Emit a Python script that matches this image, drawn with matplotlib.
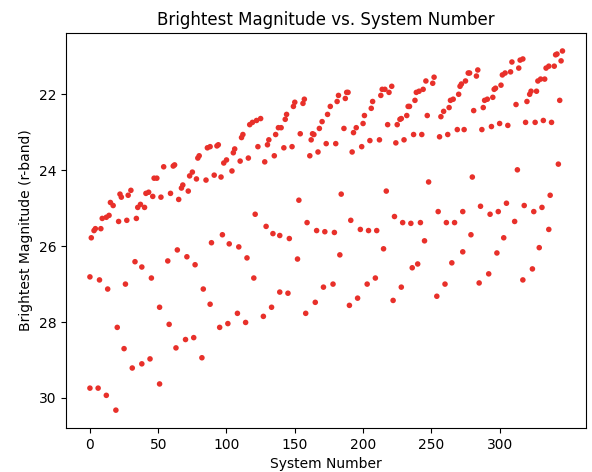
import matplotlib.pyplot as plt

# values
system_number = [
    1, 3, 4, 8, 9, 12, 14, 15, 17, 21, 22, 23, 27, 28, 30, 34, 35, 37, 40, 41,
    43, 46, 47, 49, 52, 54, 0, 7, 13, 26, 33, 38, 45, 51, 57, 58, 20, 25, 31, 38,
    44, 51, 0, 6, 12, 19, 61, 62, 59, 65, 67, 68, 72, 73, 75, 78, 79, 80, 85, 86,
    88, 91, 93, 94, 96, 98, 100, 104, 105, 106, 110, 111, 112, 116, 117, 119, 97, 89, 102, 109,
    115, 120, 64, 71, 77, 83, 88, 108, 95, 101, 114, 63, 70, 76, 82, 122, 125, 123, 128, 130,
    131, 135, 136, 138, 140, 142, 143, 144, 148, 149, 150, 154, 156, 157, 161, 162, 163, 164, 167, 168,
    170, 173, 174, 176, 180, 181, 182, 184, 121, 153, 129, 134, 139, 146, 159, 166, 172, 179, 152, 183,
    139, 145, 133, 127, 171, 178, 165, 158, 188, 189, 187, 186, 192, 193, 195, 199, 200, 201, 205, 206,
    207, 212, 213, 214, 216, 218, 219, 221, 224, 225, 227, 228, 230, 232, 233, 234, 237, 238, 239, 241,
    243, 244, 246, 247, 217, 191, 198, 204, 210, 223, 229, 235, 242, 248, 215, 245, 203, 209, 196, 190,
    236, 240, 228, 222, 251, 252, 257, 259, 263, 264, 266, 270, 271, 272, 275, 277, 278, 281, 283, 284,
    288, 289, 291, 295, 296, 297, 301, 302, 304, 308, 309, 312, 256, 262, 269, 274, 287, 294, 300, 306,
    280, 255, 261, 267, 273, 286, 293, 299, 305, 311, 279, 303, 313, 273, 265, 260, 254, 298, 292, 285,
    315, 317, 314, 320, 322, 323, 327, 328, 330, 333, 334, 336, 340, 341, 342, 345, 346, 344, 319, 326,
    332, 338, 343, 337, 318, 325, 331, 336, 329, 324, 317,
]
brightest_mag = [
    25.78, 25.59, 25.54, 25.54, 25.27, 25.24, 25.19, 24.85, 24.93, 25.35, 24.63, 24.71, 25.32, 24.66, 24.53, 25.27, 24.98, 24.90, 24.98, 24.61,
    24.58, 24.69, 24.21, 24.21, 24.71, 23.91, 26.81, 26.89, 27.13, 27.00, 26.41, 26.55, 26.84, 27.61, 26.39, 28.06, 28.14, 28.70, 29.21, 29.10,
    28.97, 29.63, 29.74, 29.74, 29.93, 30.32, 23.89, 23.86, 24.61, 24.77, 24.47, 24.39, 24.55, 24.15, 24.05, 24.23, 23.68, 23.62, 24.26, 23.41,
    23.38, 24.13, 23.36, 23.33, 24.18, 23.81, 23.73, 24.02, 23.54, 23.44, 23.76, 23.14, 23.06, 23.68, 22.80, 22.74, 25.70, 25.91, 25.94, 26.02,
    26.31, 26.84, 26.10, 26.28, 26.49, 27.13, 27.53, 27.77, 28.14, 28.04, 28.01, 28.68, 28.46, 28.41, 28.94, 22.69, 22.64, 23.38, 23.78, 23.33,
    23.20, 23.62, 23.06, 22.88, 22.88, 23.41, 22.66, 22.53, 23.38, 22.32, 22.21, 23.04, 22.24, 22.13, 23.62, 23.20, 23.04, 23.06, 23.52, 22.90,
    22.72, 23.30, 22.53, 22.32, 23.30, 22.19, 22.03, 24.63, 25.16, 24.79, 25.48, 25.67, 25.72, 25.80, 25.38, 25.59, 25.62, 25.64, 26.34, 26.23,
    27.21, 27.24, 27.61, 27.85, 27.08, 27.00, 27.48, 27.77, 21.95, 21.95, 22.11, 22.90, 23.52, 23.01, 22.88, 23.38, 22.77, 22.56, 23.22, 22.37,
    22.19, 23.20, 22.03, 21.87, 21.87, 22.80, 21.95, 21.79, 23.28, 22.80, 22.66, 22.64, 23.20, 22.56, 22.32, 22.32, 23.06, 22.16, 21.95, 21.92,
    23.06, 21.87, 21.65, 22.56, 24.55, 25.32, 25.56, 25.59, 25.59, 25.22, 25.38, 25.40, 25.38, 24.31, 26.07, 25.86, 27.00, 26.84, 27.37, 27.56,
    26.57, 26.47, 27.08, 27.43, 21.71, 21.55, 22.59, 22.45, 22.35, 22.16, 22.13, 22.00, 21.79, 21.73, 21.65, 21.44, 21.44, 22.43, 21.52, 21.36,
    22.35, 22.16, 22.13, 22.08, 21.87, 21.84, 21.76, 21.49, 21.44, 21.41, 21.15, 22.27, 23.12, 23.06, 22.93, 22.93, 22.93, 22.85, 22.77, 22.82,
    24.18, 25.09, 25.38, 25.38, 25.09, 24.95, 25.16, 25.09, 24.87, 25.35, 25.70, 25.78, 23.99, 26.15, 26.44, 27.00, 27.32, 26.18, 26.73, 26.97,
    21.10, 21.07, 21.31, 22.19, 22.00, 21.92, 21.92, 21.65, 21.60, 21.60, 21.31, 21.26, 21.26, 20.96, 20.94, 21.12, 20.86, 22.16, 22.74, 22.74,
    22.69, 22.74, 23.84, 24.66, 24.93, 25.09, 24.98, 25.56, 26.04, 26.60, 26.89,
]

fig = plt.figure(figsize=(5.92, 4.72), dpi=100)
ax = fig.add_axes([0.112, 0.093, 0.878, 0.837])

ax.scatter(system_number, brightest_mag, s=16, color='#e8302a', edgecolors='none')
ax.invert_yaxis()
ax.set_xticks(range(0, 301, 50))

ax.set_title('Brightest Magnitude vs. System Number')
ax.set_xlabel('System Number')
ax.set_ylabel('Brightest Magnitude (r-band)')

plt.savefig('out.png', dpi=100)
